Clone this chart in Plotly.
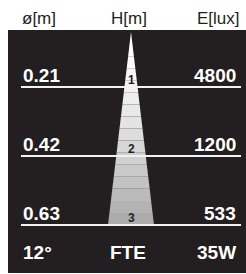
import plotly.graph_objects as go

# ---- data ----
diameters = ["0.21", "0.42", "0.63"]
lux = ["4800", "1200", "533"]
heights = ["1", "2", "3"]
header = ["ø[m]", "H[m]", "E[lux]"]
footer = ["12°", "FTE", "35W"]

W, H = 246, 274
BG = "#231f20"
FONT = "Liberation Sans, Arial, sans-serif"

fig = go.Figure()

# geometry (pixel-like coordinates)
apex_x, apex_y = 131, 32
base_y = 225
base_half = 23
row_y = [87 + i * 69 for i in range(len(heights))]

# cone as gradient bands
N = 16
for k in range(N):
    t0 = k / N
    t1 = (k + 1) / N
    y0 = apex_y + t0 * (base_y - apex_y)
    y1 = apex_y + t1 * (base_y - apex_y)
    h0 = base_half * t0
    h1 = base_half * t1
    tm = (t0 + t1) / 2
    c = int(round(255 - 88 * tm ** 1.5))
    col = f"rgb({c},{c},{c})"
    fig.add_trace(go.Scatter(
        x=[apex_x - h0, apex_x + h0, apex_x + h1, apex_x - h1, apex_x - h0],
        y=[y0, y0, y1, y1, y0],
        mode="lines", fill="toself", fillcolor=col,
        line=dict(width=0, color=col), hoverinfo="skip", showlegend=False))

shapes = [dict(type="rect", xref="x", yref="y", x0=8, x1=246, y0=30, y1=273,
               fillcolor=BG, line=dict(width=0), layer="below")]
for y in row_y:
    shapes.append(dict(type="line", xref="x", yref="y", x0=21, x1=241, y0=y, y1=y,
                       line=dict(color="#f2f2f2", width=2), layer="above"))

ann = []
# header
ann.append(dict(x=20, y=18, text=header[0], xanchor="left"))
ann.append(dict(x=129, y=18, text=header[1], xanchor="center"))
ann.append(dict(x=242, y=18, text=header[2], xanchor="right"))
for a in ann:
    a.update(font=dict(family=FONT, size=17, color=BG), yanchor="middle", showarrow=False)

for i, y in enumerate(row_y):
    ann.append(dict(x=21, y=y - 12, text=f"<b>{diameters[i]}</b>", xanchor="left", yanchor="middle",
                    showarrow=False, font=dict(family=FONT, size=19, color="white")))
    ann.append(dict(x=238, y=y - 12, text=f"<b>{lux[i]}</b>", xanchor="right", yanchor="middle",
                    showarrow=False, font=dict(family=FONT, size=19, color="white")))
    ann.append(dict(x=apex_x, y=y - 7, text=f"<b>{heights[i]}</b>", xanchor="center", yanchor="middle",
                    showarrow=False, font=dict(family=FONT, size=12, color=BG)))

fy = 252
ann.append(dict(x=21, y=fy, text=f"<b>{footer[0]}</b>", xanchor="left"))
ann.append(dict(x=128, y=fy, text=f"<b>{footer[1]}</b>", xanchor="center"))
ann.append(dict(x=238, y=fy, text=f"<b>{footer[2]}</b>", xanchor="right"))
for a in ann[-3:]:
    a.update(font=dict(family=FONT, size=19, color="white"), yanchor="middle", showarrow=False)

fig.update_layout(
    width=W, height=H, margin=dict(l=0, r=0, t=0, b=0),
    paper_bgcolor="white", plot_bgcolor="white",
    xaxis=dict(range=[0, W], visible=False, fixedrange=True),
    yaxis=dict(range=[H, 0], visible=False, fixedrange=True),
    shapes=shapes, annotations=ann, showlegend=False,
)

fig.write_html("out.html", config={"displayModeBar": False},
               post_script="document.body.style.margin='0';document.body.style.overflow='hidden';")
